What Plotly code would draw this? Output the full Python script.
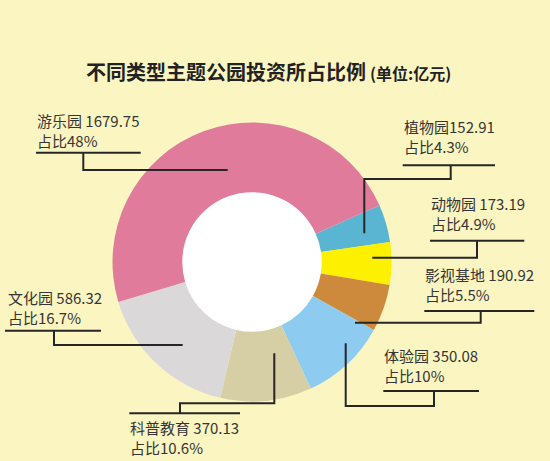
import plotly.graph_objects as go

# data (clockwise from the 植物园 slice)
names = ['植物园', '动物园', '影视基地', '体验园', '科普教育', '文化园', '游乐园']
values = [152.91, 173.19, 190.92, 350.08, 370.13, 586.32, 1679.75]
shares = [4.3, 4.9, 5.5, 10, 10.6, 16.7, 48]
colors = ['#5AB5D3', '#FDF000', '#CD8A3C', '#8DCBF1', '#D6CFA5', '#DAD8D9', '#E07B9C']
gaps = ['', ' ', ' ', ' ', ' ', ' ', ' ']

W, H = 550, 461
BG = '#FBF6C1'
CX, CY, R = 252, 262, 139.5


def px(x):
    return x / W


def py(y):
    return 1 - y / H


fig = go.Figure()
fig.add_trace(go.Pie(
    labels=names, values=values,
    marker=dict(colors=colors, line=dict(width=0)),
    sort=False, direction='clockwise', rotation=66,
    hole=0.5, textinfo='none', hoverinfo='label+value+percent',
    domain=dict(x=[px(CX - R), px(CX + R)], y=[py(CY + R), py(CY - R)]),
    showlegend=False,
))

# label block position (left x, vertical centre) and leader lines, in pixels
label_pos = {
    '游乐园': (35, 130),
    '植物园': (402, 136.7),
    '动物园': (429, 213.7),
    '影视基地': (423, 284),
    '体验园': (382, 365.3),
    '科普教育': (128, 437.7),
    '文化园': (6, 307.7),
}
leaders = {
    '游乐园': [[(36, 152.7), (140.7, 152.7)], [(83.3, 152.7), (83.3, 170), (227.7, 170)]],
    '植物园': [[(402.7, 165.3), (495, 165.3)], [(450.7, 165.3), (450.7, 179), (364.3, 179), (364.3, 233.3)]],
    '动物园': [[(430, 240.7), (524.3, 240.7)], [(477, 240.7), (477, 257.7), (372.3, 257.7)]],
    '影视基地': [[(424.3, 311), (534.3, 311)], [(480.7, 311), (480.7, 322.7), (355, 322.7)]],
    '体验园': [[(383.3, 391), (479, 391)], [(434, 391), (434, 406), (345.7, 406), (345.7, 343.3)]],
    '科普教育': [[(129.3, 413.3), (240, 413.3)], [(180, 413.3), (180, 403.3), (274.3, 403.3), (274.3, 353.3)]],
    '文化园': [[(5, 330.7), (101, 330.7)], [(54, 330.7), (54, 345), (182.7, 345)]],
}

shapes = [dict(type='circle', xref='paper', yref='paper', layer='below',
               x0=px(CX - 80), x1=px(CX + 80), y0=py(CY + 80), y1=py(CY - 80),
               fillcolor='white', line=dict(width=0))]
annotations = []
for name, v, s, g in zip(names, values, shares, gaps):
    x, y = label_pos[name]
    annotations.append(dict(
        x=px(x), y=py(y), xref='paper', yref='paper', xanchor='left', yanchor='middle',
        text=f'{name}{g}{v:.2f}<br>占比{s:g}%', showarrow=False, align='left',
        font=dict(size=15, color='#353535', family='Noto Sans CJK SC'),
    ))
    for seg in leaders[name]:
        path = 'M ' + ' L '.join(f'{px(a)} {py(b)}' for a, b in seg)
        shapes.append(dict(type='path', xref='paper', yref='paper', path=path,
                           line=dict(color='#262626', width=2)))

annotations.append(dict(
    x=px(368), y=py(71.7), xref='paper', yref='paper', xanchor='right', yanchor='middle',
    text='<b>不同类型主题公园投资所占比例</b>', showarrow=False,
    font=dict(size=20, color='#222222', family='Noto Sans CJK SC'),
))
annotations.append(dict(
    x=px(368), y=py(73), xref='paper', yref='paper', xanchor='left', yanchor='middle',
    text='<b>(单位:亿元)</b>', showarrow=False,
    font=dict(size=16, color='#222222', family='Noto Sans CJK SC'),
))

fig.update_layout(
    width=W, height=H,
    margin=dict(l=0, r=0, t=0, b=0),
    paper_bgcolor=BG, plot_bgcolor=BG,
    shapes=shapes, annotations=annotations,
)

# drop the default page margin so the figure sits at the window's corner
fig.write_html("out.html", config={'displayModeBar': False},
               post_script="document.body.style.margin='0';")
